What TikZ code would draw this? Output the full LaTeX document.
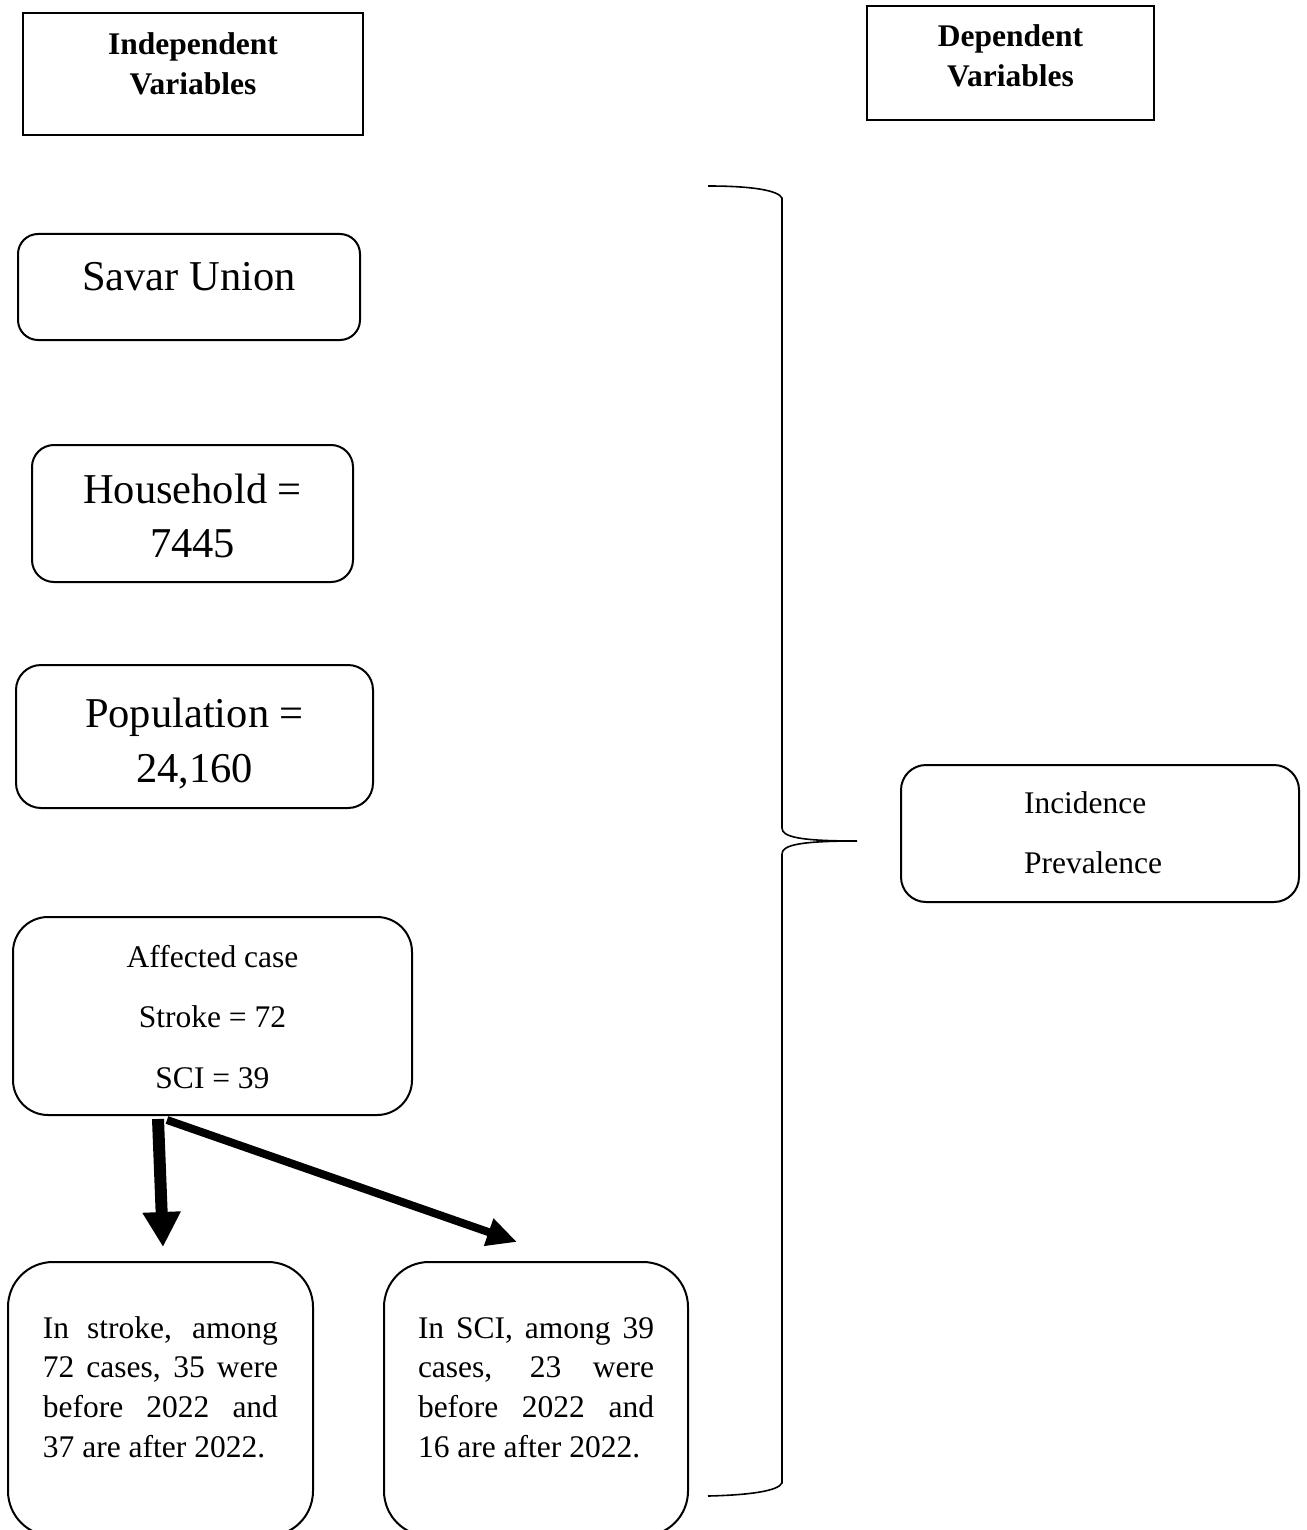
\documentclass[tikz,border=0pt]{standalone}
\usepackage{fontspec}
\setmainfont{Liberation Serif}
\usetikzlibrary{arrows.meta,calc}
\tikzset{
  hdrbox/.style={draw, line width=2pt, inner sep=0pt, outer sep=0pt},
  rbox/.style={draw, line width=2pt, inner sep=0pt, outer sep=0pt, rounded corners=#1},
  bigarrow/.style={line width=12pt, -{Triangle[length=35pt,width=36pt]}},
  thinarrow/.style={line width=8pt, -{Triangle[length=30pt,width=27pt]}},
  bracepath/.style={line width=1.6pt},
}
\newcommand\bxt[5]{\parbox[c][#2][t]{#1}{\setlength{\parskip}{0pt}#4\rule{0pt}{#3}#5}}
\begin{document}
\begin{tikzpicture}[x=1pt,y=-1pt]
\useasboundingbox (0,0) rectangle (1306,1530);
\clip (0,0) rectangle (1306,1530);

\node[hdrbox] (iv) at (193,74) {\bxt{340pt}{122pt}{42pt}{\centering\fontsize{31.5}{40}\selectfont\bfseries}{Independent\\Variables}};
\node[hdrbox] (dv) at (1010.5,63) {\bxt{287pt}{114pt}{41pt}{\centering\fontsize{31.5}{40}\selectfont\bfseries}{Dependent\\Variables}};

\node[rbox=20pt] (savar) at (189,287) {\bxt{342pt}{106pt}{57pt}{\centering\fontsize{42.5}{54}\selectfont}{Savar Union}};
\node[rbox=22pt] (hh) at (192.5,513.5) {\bxt{321pt}{137pt}{58pt}{\centering\fontsize{42.5}{54}\selectfont}{Household =\\7445}};
\node[rbox=25pt] (pop) at (194.5,736.5) {\bxt{357pt}{143pt}{62pt}{\centering\fontsize{42.5}{55}\selectfont}{Population =\\24,160}};
\node[rbox=35pt] (aff) at (212.5,1016) {\bxt{399pt}{198pt}{50pt}{\centering\fontsize{31.5}{60.5}\selectfont}{Affected case\\Stroke = 72\\SCI = 39}};

\node[rbox=25pt] (inc) at (1100,833.5) {\bxt{398pt}{137pt}{48pt}{\raggedright\leftskip=123pt\relax\fontsize{31.5}{60}\selectfont}{Incidence\\Prevalence}};

\node[rbox=45pt] (sk) at (160.5,1399) {\bxt{305pt}{274pt}{76pt}{\centering\fontsize{31.5}{39.7}\selectfont}{%
\makebox[235pt][s]{In stroke, among}\\
\makebox[235pt][s]{72 cases, 35 were}\\
\makebox[235pt][s]{before 2022 and}\\
\makebox[235pt][l]{37 are after 2022.}}};
\node[rbox=45pt] (sci) at (536,1399) {\bxt{304pt}{274pt}{76pt}{\centering\fontsize{31.5}{39.7}\selectfont}{%
\makebox[236pt][s]{In SCI, among 39}\\
\makebox[236pt][s]{cases, 23 were}\\
\makebox[236pt][s]{before 2022 and}\\
\makebox[236pt][l]{16 are after 2022.}}};

\draw[bracepath] (708,186) .. controls (750,186) and (778,190) .. (782,198)
  -- (782,828) .. controls (782,837) and (800,841) .. (857,841)
  .. controls (800,841) and (782,845) .. (782,854)
  -- (782,1483) .. controls (778,1491) and (750,1495) .. (708,1496);

\draw[bigarrow] ($(aff.south west)+(145,4)$) -- ($(sk.north)+(2.5,-15)$);
\draw[thinarrow] ($(aff.south west)+(154,5)$) -- ($(sci.north west)+(133,-20)$);
\end{tikzpicture}
\end{document}
